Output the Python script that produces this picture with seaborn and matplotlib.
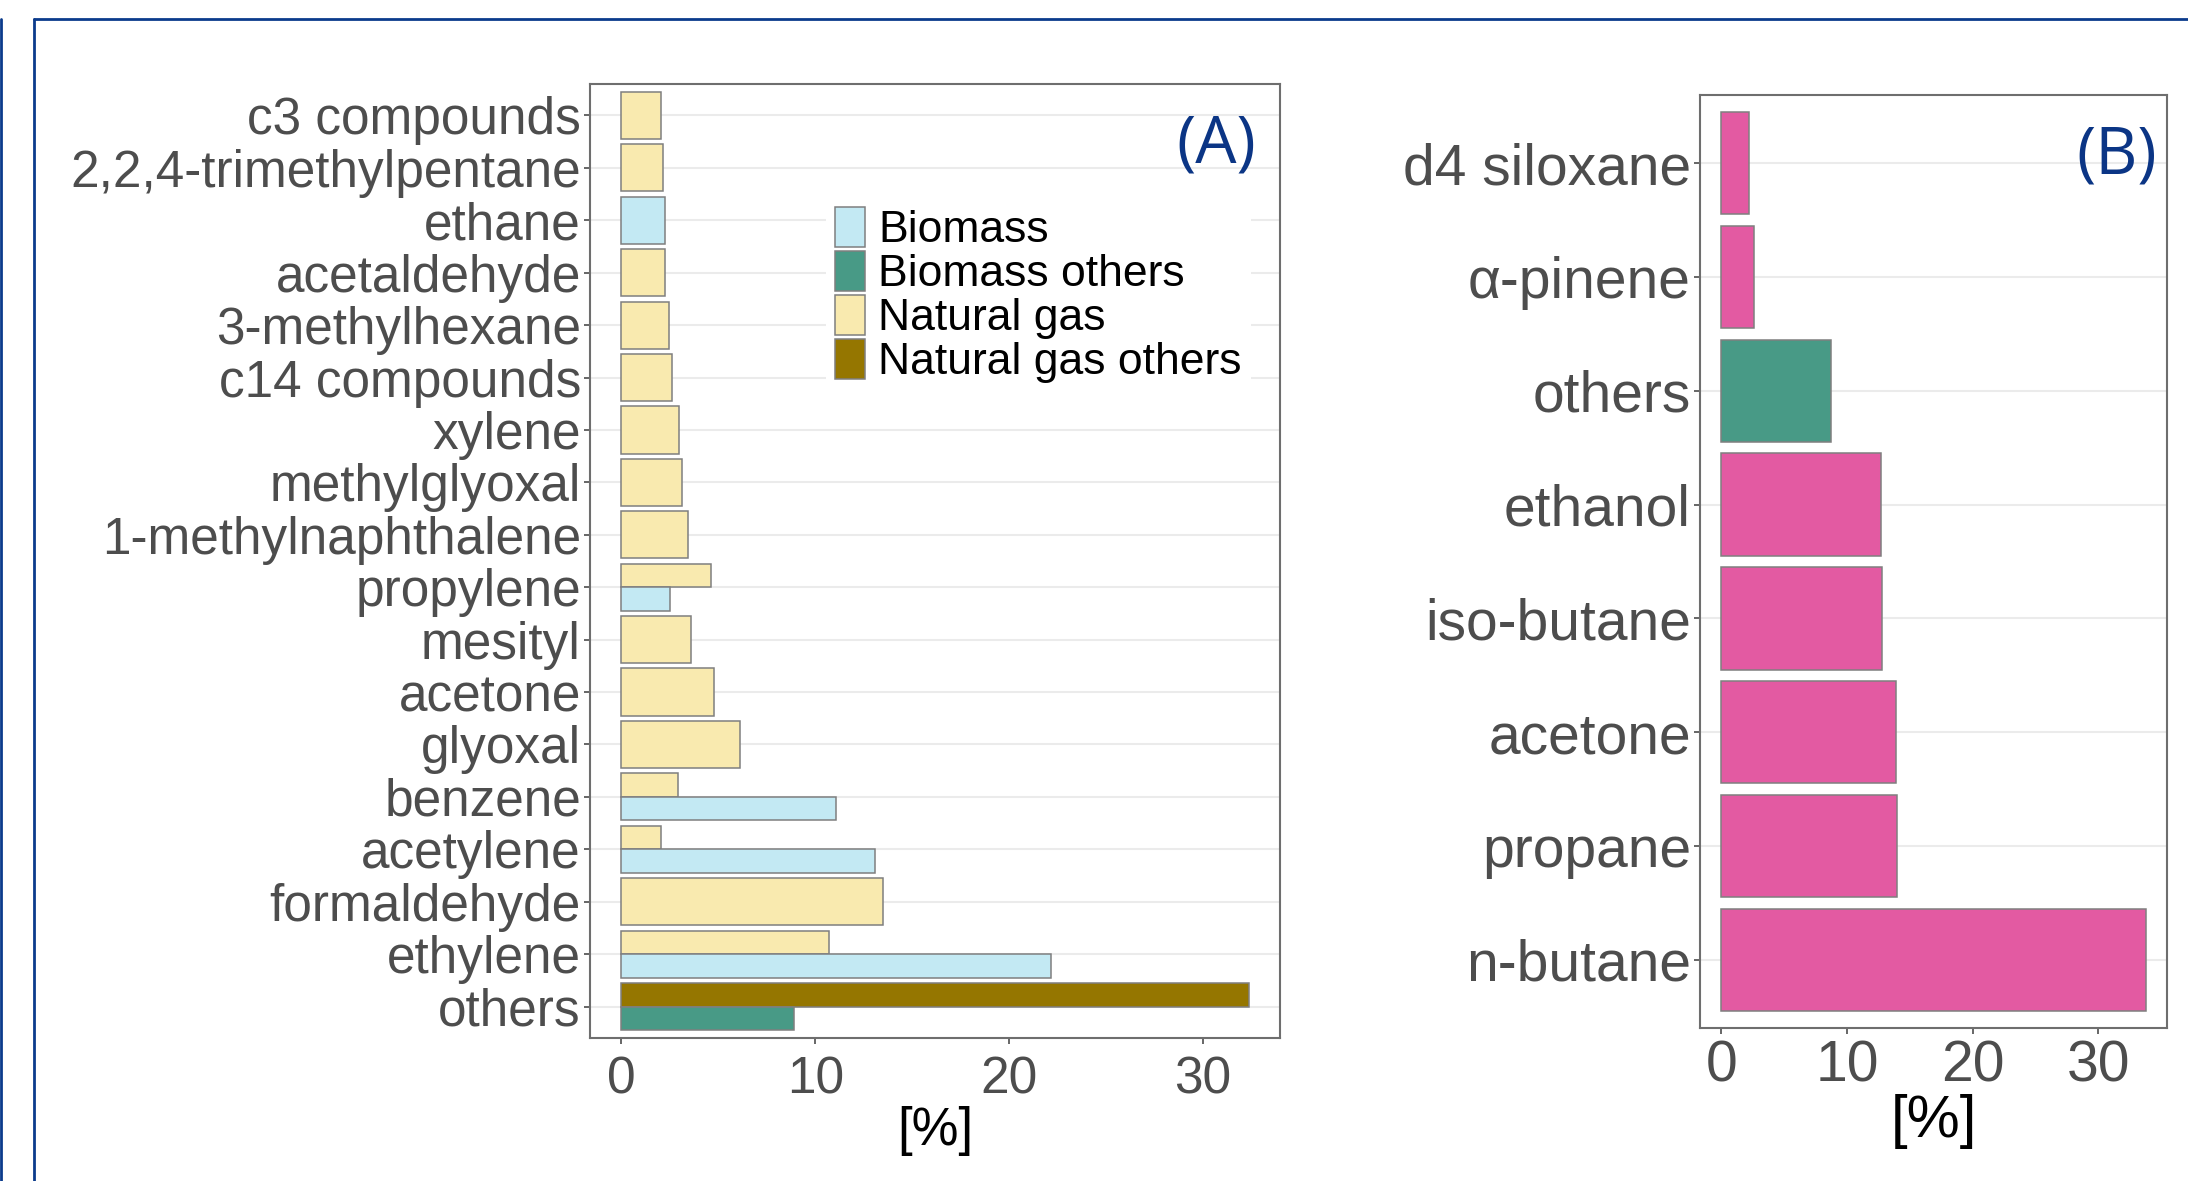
import matplotlib
matplotlib.use("Agg")
import matplotlib.pyplot as plt
from matplotlib.lines import Line2D
from matplotlib.patches import Patch
import seaborn as sns
import pandas as pd

# ---------------- data ----------------
a_order = ["c3 compounds", "2,2,4-trimethylpentane", "ethane", "acetaldehyde",
           "3-methylhexane", "c14 compounds", "xylene", "methylglyoxal",
           "1-methylnaphthalene", "propylene", "mesityl", "acetone", "glyoxal",
           "benzene", "acetylene", "formaldehyde", "ethylene", "others"]

a_compound = ["c3 compounds", "2,2,4-trimethylpentane", "ethane", "acetaldehyde",
              "3-methylhexane", "c14 compounds", "xylene", "methylglyoxal",
              "1-methylnaphthalene", "propylene", "propylene", "mesityl", "acetone",
              "glyoxal", "benzene", "benzene", "acetylene", "acetylene",
              "formaldehyde", "ethylene", "ethylene", "others", "others"]
a_source = ["Natural gas", "Natural gas", "Biomass", "Natural gas",
            "Natural gas", "Natural gas", "Natural gas", "Natural gas",
            "Natural gas", "Natural gas", "Biomass", "Natural gas", "Natural gas",
            "Natural gas", "Natural gas", "Biomass", "Natural gas", "Biomass",
            "Natural gas", "Natural gas", "Biomass", "Natural gas others", "Biomass others"]
a_value = [2.07, 2.14, 2.26, 2.26,
           2.45, 2.62, 2.98, 3.15,
           3.46, 4.61, 2.52, 3.60, 4.76,
           6.13, 2.93, 11.07, 2.07, 13.09,
           13.50, 10.69, 22.15, 32.36, 8.89]

legend_order = ["Biomass", "Biomass others", "Natural gas", "Natural gas others"]
dodge_order = ["Natural gas", "Natural gas others", "Biomass", "Biomass others"]
source_colors = ["#c3e9f3", "#489a86", "#f9eaaf", "#957600"]

b_compound = ["d4 siloxane", "α-pinene", "others", "ethanol",
              "iso-butane", "acetone", "propane", "n-butane"]
b_value = [2.2, 2.6, 8.71, 12.7, 12.8, 13.87, 14.0, 33.77]
b_group = ["compound", "compound", "others", "compound",
           "compound", "compound", "compound", "compound"]
b_group_colors = ["#e35aa2", "#489a86"]

tick_ticks = [0, 10, 20, 30]
x_label = "[%]"

# ---------------- style ----------------
sns.set_style("white")
plt.rcParams["font.family"] = ["Liberation Sans", "DejaVu Sans"]

fig = plt.figure(figsize=(21.88, 11.81), dpi=100)
W, H = 2188, 1181

def ax_rect(l, t, r, b):
    return [l / W, 1 - b / H, (r - l) / W, (b - t) / H]

axA = fig.add_axes(ax_rect(590, 84, 1280, 1038))
axB = fig.add_axes(ax_rect(1700, 95, 2167, 1028))

edge = "#7f7f7f"
pal_a = dict(zip(legend_order, source_colors))
dfA = pd.DataFrame({"compound": a_compound, "source": a_source, "value": a_value})

sns.barplot(data=dfA, x="value", y="compound", hue="source", order=a_order,
            hue_order=dodge_order, palette=pal_a, orient="h", dodge=True,
            width=0.9, edgecolor=edge, linewidth=1.1, saturation=1,
            errorbar=None, legend=False, ax=axA)

# ggplot-style dodge: bars share their category slot only with bars present
groups = {}
for p in axA.patches:
    c = p.get_y() + p.get_height() / 2
    groups.setdefault(int(round(c)), []).append(p)
for idx, ps in groups.items():
    ps.sort(key=lambda q: q.get_y())
    k = len(ps)
    h = 0.9 / k
    for j, p in enumerate(ps):
        p.set_y(idx - 0.45 + j * h)
        p.set_height(h)

dfB = pd.DataFrame({"compound": b_compound, "value": b_value, "group": b_group})
sns.barplot(data=dfB, x="value", y="compound", hue="group", order=b_compound,
            palette=dict(zip(["compound", "others"], b_group_colors)),
            orient="h", dodge=False, width=0.9, edgecolor=edge, linewidth=1.1,
            saturation=1, errorbar=None, legend=False, ax=axB)

def style(ax, n, vmax, ysize, xsize, labsize, xpad, labpad):
    ax.set_xlim(-0.05 * vmax, 1.05 * vmax)
    ax.set_ylim(n - 1 + 0.6, -0.6)
    ax.set_xticks(tick_ticks)
    ax.set_axisbelow(True)
    ax.grid(False)
    ax.yaxis.grid(True, color="#ebebeb", linewidth=1.5)
    for s in ax.spines.values():
        s.set_visible(True)
        s.set_color("#6e6e6e")
        s.set_linewidth(1.5)
    ax.tick_params(axis="y", which="major", left=True, length=4.5, width=1.2,
                   color="#4d4d4d", labelsize=ysize, labelcolor="#4d4d4d", pad=2)
    ax.tick_params(axis="x", which="major", bottom=True, length=4.5, width=1.2,
                   color="#4d4d4d", labelsize=xsize, labelcolor="#4d4d4d", pad=xpad)
    ax.set_ylabel("")
    ax.set_xlabel(x_label, fontsize=labsize, color="black", labelpad=labpad)

style(axA, len(a_order), max(a_value), 37, 37, 38, 8, 1)
style(axB, len(b_compound), max(b_value), 41, 41, 43, 4, 0)

# legend
handles = [Patch(facecolor=pal_a[s], edgecolor=edge, linewidth=1.1) for s in legend_order]
leg = axA.legend(handles, legend_order, loc="upper left",
                 bbox_to_anchor=((826 - 590) / 690, 1 - (198 - 84) / 954),
                 fontsize=32, frameon=True, framealpha=1, facecolor="white",
                 edgecolor="none", handlelength=0.68, handleheight=1.0,
                 handletextpad=0.3, labelspacing=0.0, borderpad=0.2,
                 borderaxespad=0, fancybox=False)
for t in leg.get_texts():
    t.set_color("black")

# panel letters
axA.text(0.907, 0.936, "(A)", transform=axA.transAxes, ha="center", va="center",
         fontsize=47, color="#0b3585", family=["Open Sans", "DejaVu Sans"])
axB.text(0.893, 0.934, "(B)", transform=axB.transAxes, ha="center", va="center",
         fontsize=47, color="#0b3585", family=["Open Sans", "DejaVu Sans"])

# outer blue frame
fc = "#0b3b8c"
fig.add_artist(Line2D([34 / W, 1], [1 - 19 / H, 1 - 19 / H], color=fc, lw=2.0,
                      transform=fig.transFigure))
fig.add_artist(Line2D([34 / W, 34 / W], [0, 1 - 19 / H], color=fc, lw=2.0,
                      transform=fig.transFigure))
fig.add_artist(Line2D([1 / W, 1 / W], [0, 1 - 19 / H], color=fc, lw=2.0,
                      transform=fig.transFigure))

fig.savefig("out.png", dpi=100, facecolor="white")
